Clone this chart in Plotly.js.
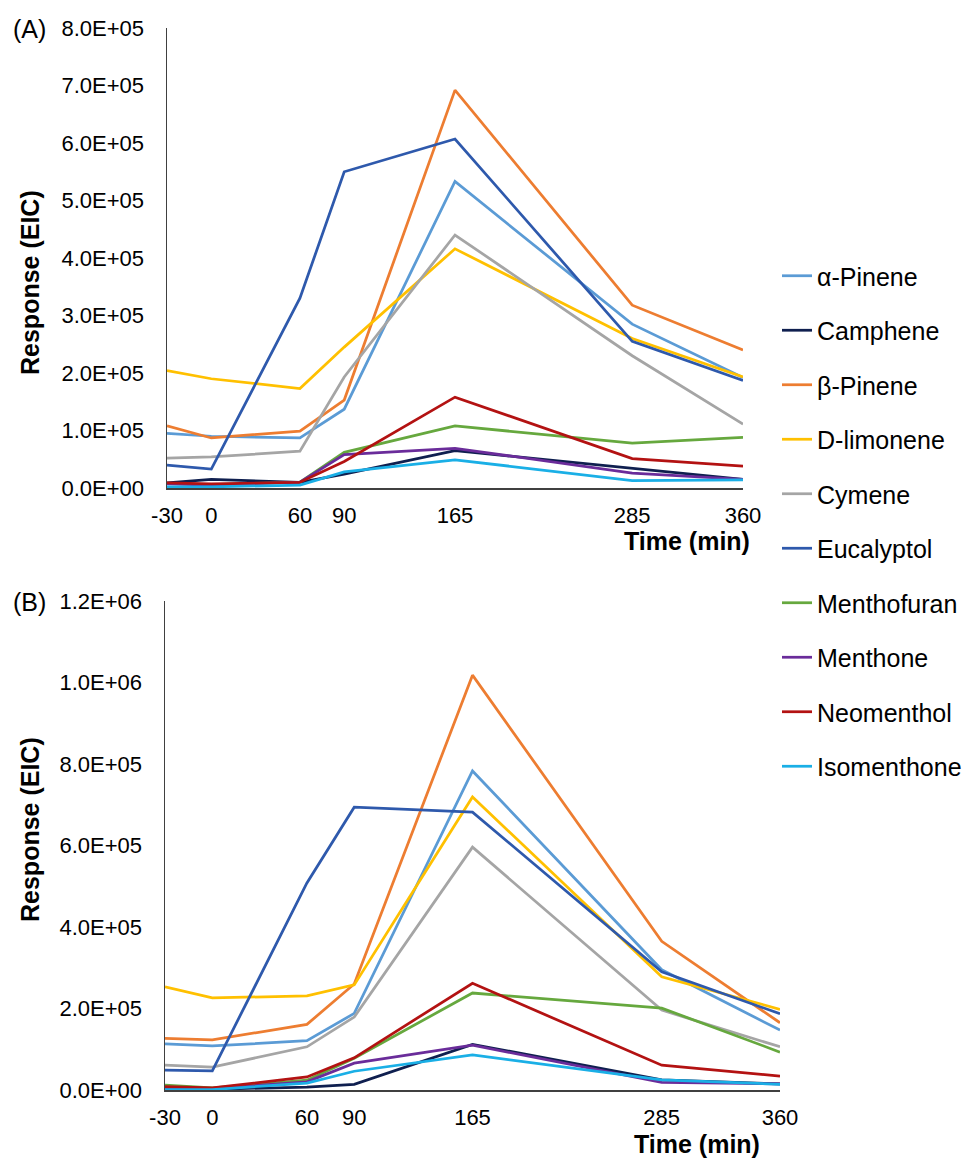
<!DOCTYPE html>
<html>
<head>
<meta charset="utf-8">
<script src="https://cdn.plot.ly/plotly-3.0.1.min.js"></script>
<style>
  html, body { margin: 0; padding: 0; background: #ffffff; }
  #chart { width: 974px; height: 1160px; }
</style>
</head>
<body>
<div id="chart"></div>
<script>
// ---- data ----
const time = [-30, 0, 60, 90, 165, 285, 360];
const timeTickText = ["-30", "0", "60", "90", "165", "285", "360"];

const compounds = ["α-Pinene", "Camphene", "β-Pinene", "D-limonene", "Cymene",
                   "Eucalyptol", "Menthofuran", "Menthone", "Neomenthol", "Isomenthone"];

// Panel (A)
const A_alphaPinene = [95000, 90000, 87000, 137000, 533000, 285000, 192000];
const A_camphene    = [9000, 15000, 10000, 24000, 65000, 34000, 15000];
const A_betaPinene  = [108000, 87000, 99000, 153000, 692000, 318000, 240000];
const A_dLimonene   = [204000, 190000, 173000, 245000, 416000, 260000, 193000];
const A_cymene      = [52000, 54000, 64000, 193000, 440000, 230000, 111000];
const A_eucalyptol  = [40000, 33000, 330000, 550000, 607000, 255000, 187000];
const A_menthofuran = [8000, 6000, 10000, 62000, 108000, 78000, 88000];
const A_menthone    = [7000, 5000, 10000, 58000, 69000, 26000, 15000];
const A_neomenthol  = [9000, 7000, 10000, 46000, 158000, 51000, 38000];
const A_isomenthone = [2000, 2000, 5000, 28000, 49000, 13000, 14000];

// Panel (B)
const B_alphaPinene = [113000, 108000, 121000, 188000, 783000, 295000, 147000];
const B_camphene    = [2000, 2000, 7000, 14000, 112000, 25000, 15000];
const B_betaPinene  = [127000, 123000, 161000, 260000, 1018000, 365000, 165000];
const B_dLimonene   = [253000, 226000, 231000, 258000, 719000, 278000, 198000];
const B_cymene      = [61000, 56000, 106000, 179000, 596000, 196000, 106000];
const B_eucalyptol  = [49000, 47000, 508000, 694000, 682000, 290000, 187000];
const B_menthofuran = [12000, 5000, 24000, 78000, 238000, 201000, 93000];
const B_menthone    = [3000, 3000, 20000, 66000, 110000, 19000, 15000];
const B_neomenthol  = [8000, 5000, 32000, 79000, 262000, 61000, 34000];
const B_isomenthone = [1000, 1000, 17000, 46000, 86000, 25000, 14000];

const A_tickVals = [0, 100000, 200000, 300000, 400000, 500000, 600000, 700000, 800000];
const A_tickText = ["0.0E+00", "1.0E+05", "2.0E+05", "3.0E+05", "4.0E+05",
                    "5.0E+05", "6.0E+05", "7.0E+05", "8.0E+05"];
const B_tickVals = [0, 200000, 400000, 600000, 800000, 1000000, 1200000];
const B_tickText = ["0.0E+00", "2.0E+05", "4.0E+05", "6.0E+05", "8.0E+05",
                    "1.0E+06", "1.2E+06"];

// ---- styling ----
const colors = ["#5B9BD5", "#0F1F4F", "#ED7D31", "#FFC000", "#A5A5A5",
                "#2E59AC", "#66A83E", "#6A2C9A", "#B31212", "#1AAFE6"];
const seriesA = [A_alphaPinene, A_camphene, A_betaPinene, A_dLimonene, A_cymene,
                 A_eucalyptol, A_menthofuran, A_menthone, A_neomenthol, A_isomenthone];
const seriesB = [B_alphaPinene, B_camphene, B_betaPinene, B_dLimonene, B_cymene,
                 B_eucalyptol, B_menthofuran, B_menthone, B_neomenthol, B_isomenthone];

const FONT = "Arial, 'Liberation Sans', Helvetica, sans-serif";
const W = 974, H = 1160;
const px = v => v / W;
const py = v => 1 - v / H;

const traces = [];
compounds.forEach((name, i) => {
  traces.push({
    x: time, y: seriesA[i], name: name, type: "scatter", mode: "lines",
    xaxis: "x", yaxis: "y", legendgroup: name,
    line: { color: colors[i], width: 2.75 }
  });
});
compounds.forEach((name, i) => {
  traces.push({
    x: time, y: seriesB[i], name: name, type: "scatter", mode: "lines",
    xaxis: "x2", yaxis: "y2", legendgroup: name, showlegend: false,
    line: { color: colors[i], width: 2.75 }
  });
});

const xBase = {
  range: [-30, 360], showgrid: false, zeroline: false, showline: true,
  linecolor: "#404040", linewidth: 1.5, ticks: "",
  tickvals: time, ticktext: timeTickText, ticklabelstandoff: 7,
  tickfont: { family: FONT, size: 22, color: "#000" }, fixedrange: true
};
const yBase = {
  showgrid: false, zeroline: false, showline: true,
  linecolor: "#404040", linewidth: 1.5, ticks: "", ticklabelstandoff: 17,
  tickfont: { family: FONT, size: 22, color: "#000" }, fixedrange: true
};

const ann = (text, x, y, opts) => Object.assign({
  text: text, xref: "paper", yref: "paper", x: px(x), y: py(y),
  xanchor: "center", yanchor: "middle", showarrow: false,
  font: { family: FONT, size: 25, color: "#000" }
}, opts || {});

const layout = {
  width: W, height: H,
  margin: { l: 0, r: 0, t: 0, b: 0 },
  paper_bgcolor: "#fff", plot_bgcolor: "#fff",
  font: { family: FONT, color: "#000" },
  xaxis: Object.assign({}, xBase, { domain: [px(167), px(743)], anchor: "y" }),
  yaxis: Object.assign({}, yBase, { domain: [py(488), py(28)], anchor: "x",
           range: [0, 800000], tickvals: A_tickVals, ticktext: A_tickText }),
  xaxis2: Object.assign({}, xBase, { domain: [px(165), px(780)], anchor: "y2" }),
  yaxis2: Object.assign({}, yBase, { domain: [py(1090), py(601)], anchor: "x2",
           range: [0, 1200000], tickvals: B_tickVals, ticktext: B_tickText }),
  showlegend: true,
  legend: {
    x: px(777), xanchor: "left", y: py(253), yanchor: "top",
    font: { family: FONT, size: 25, color: "#000" },
    tracegroupgap: 19, bgcolor: "rgba(0,0,0,0)", borderwidth: 0
  },
  annotations: [
    ann("(A)", 29, 29),
    ann("(B)", 29, 602),
    ann("<b>Response (EIC)</b>", 30, 283, { textangle: -90 }),
    ann("<b>Response (EIC)</b>", 30, 830, { textangle: -90 }),
    ann("<b>Time (min)</b>", 687, 541),
    ann("<b>Time (min)</b>", 697, 1144)
  ]
};

Plotly.newPlot("chart", traces, layout, { displayModeBar: false, staticPlot: true });
</script>
</body>
</html>
